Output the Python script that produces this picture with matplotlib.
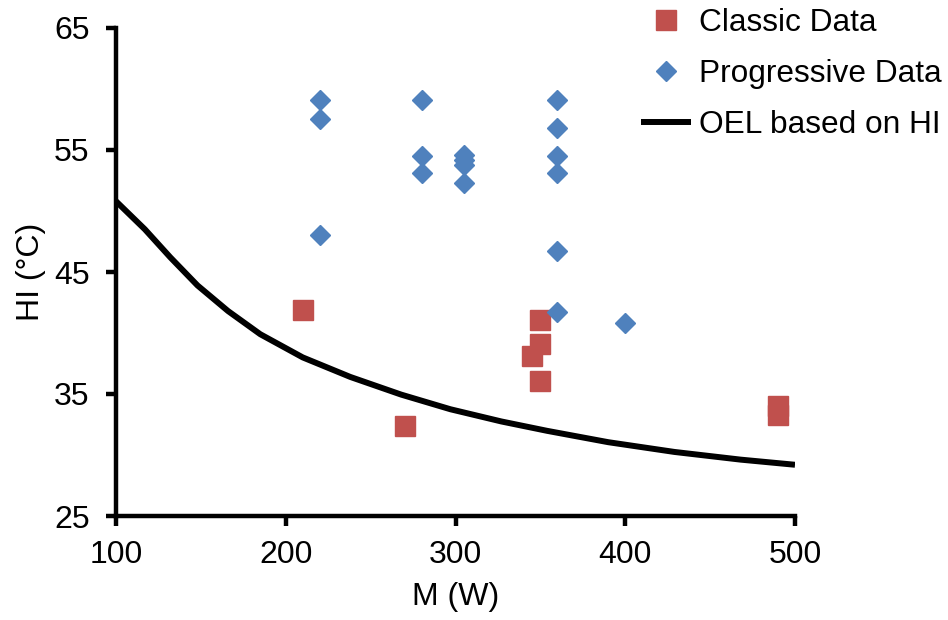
import matplotlib
matplotlib.use("Agg")
import matplotlib.pyplot as plt

plt.rcParams['font.family'] = ['Liberation Sans', 'DejaVu Sans']

classic_x = [210, 270, 345, 350, 350, 350, 490, 490]
classic_y = [41.9, 32.4, 38.1, 41.1, 39.1, 36.1, 34.0, 33.3]

prog_x = [220, 220, 220, 280, 280, 280, 305, 305, 305, 305,
          360, 360, 360, 360, 360, 360, 400]
prog_y = [59.1, 57.5, 48.0, 59.1, 54.5, 53.1, 54.6, 54.2, 53.8, 52.3,
          59.1, 56.8, 54.5, 53.1, 46.7, 41.7, 40.8]

oel_x = [100, 117, 132, 148, 166, 185, 210, 238, 268, 297, 327, 354, 390, 429, 468, 500]
oel_y = [50.8, 48.5, 46.2, 43.9, 41.8, 39.9, 38.0, 36.4, 34.95, 33.75, 32.75, 31.98,
         31.05, 30.25, 29.62, 29.2]

xticks = [100, 200, 300, 400, 500]
yticks = [25, 35, 45, 55, 65]

fig = plt.figure(figsize=(9.48, 6.20), dpi=100)
ax = fig.add_axes([116/948, 1 - 516/620, (795 - 116)/948, (516 - 28)/620])

ax.plot(classic_x, classic_y, linestyle='none', marker='s', markersize=14.5,
        color='#C0504D', markeredgecolor='#C0504D', label='Classic Data', zorder=3)
ax.plot(prog_x, prog_y, linestyle='none', marker='D', markersize=10.3,
        color='#4F81BD', markeredgecolor='#4F81BD', label='Progressive Data', zorder=3)
ax.plot(oel_x, oel_y, color='black', linewidth=4.3, label='OEL based on HI',
        zorder=2, solid_joinstyle='round', solid_capstyle='butt')

ax.set_xlim(100, 500)
ax.set_ylim(25, 65)
ax.set_xticks(xticks)
ax.set_yticks(yticks)
ax.tick_params(axis='both', labelsize=23, direction='out', length=7, width=3.2)
ax.tick_params(axis='y', pad=12)
ax.tick_params(axis='x', pad=10)
for s in ['top', 'right']:
    ax.spines[s].set_visible(False)
for s in ['left', 'bottom']:
    ax.spines[s].set_linewidth(3.2)
ax.set_xlabel('M (W)', fontsize=23, labelpad=9)
ax.set_ylabel('HI (°C)', fontsize=23, labelpad=6)

fig.legend(loc='upper left', bbox_to_anchor=(641/948, 1 - 8/620), frameon=False,
           fontsize=22.8, borderpad=0, borderaxespad=0, handlelength=1.58,
           handletextpad=0.26, labelspacing=0.67)

fig.savefig('out.png', dpi=100)
